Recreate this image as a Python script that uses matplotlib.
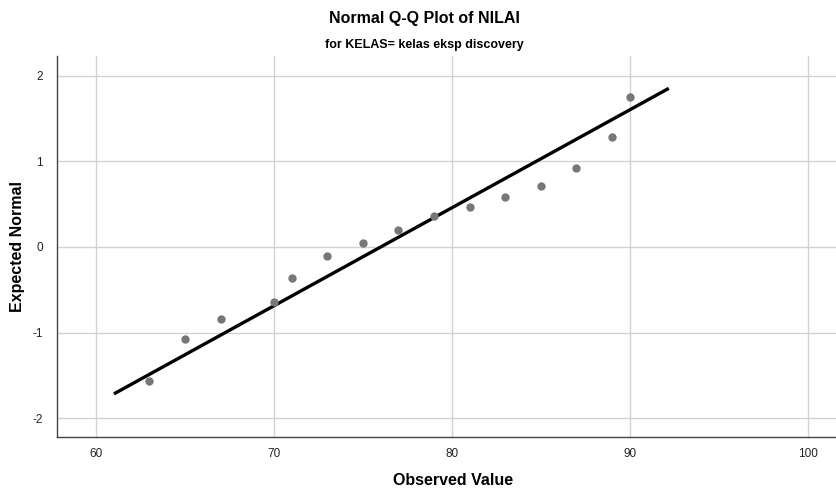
import matplotlib
matplotlib.use("Agg")
import matplotlib.pyplot as plt
import numpy as np

observed = [63, 65, 67, 70, 71, 73, 75, 77, 79, 81, 83, 85, 87, 89, 90]
expected = [-1.56, -1.08, -0.84, -0.64, -0.36, -0.10, 0.05, 0.20, 0.36,
            0.47, 0.58, 0.71, 0.92, 1.28, 1.75]
line_x = [61.0, 92.2]
line_mean = 76.0
line_sd = 8.74
x_ticks = [60, 70, 80, 90, 100]
y_ticks = [-2, -1, 0, 1, 2]

plt.rcParams['font.family'] = ['Liberation Sans', 'DejaVu Sans']
plt.rcParams['axes.unicode_minus'] = False

fig = plt.figure(figsize=(8.37, 4.88), dpi=100)
ax = fig.add_axes([0.0681, 0.1045, 0.9307, 0.7805])

ax.set_xlim(57.8, 101.6)
ax.set_ylim(-2.22, 2.23)
ax.set_xticks(x_ticks)
ax.set_yticks(y_ticks)
ax.grid(True, color='#d2d2d2', linewidth=1.0)
ax.set_axisbelow(True)

lx = np.array(line_x)
ly = (lx - line_mean) / line_sd
ax.plot(lx, ly, color='black', linewidth=2.4, solid_capstyle='butt', zorder=3)
ax.plot(observed, expected, 'o', color='#777777', markersize=6, markeredgewidth=0, zorder=4)

for s in ['top', 'right']:
    ax.spines[s].set_visible(False)
for s in ['left', 'bottom']:
    ax.spines[s].set_color('#444444')
    ax.spines[s].set_linewidth(1.0)
ax.tick_params(axis='both', length=0, labelsize=8.5, colors='#222222')
ax.tick_params(axis='x', pad=8)
ax.tick_params(axis='y', pad=10)

fig.text(0.5413, 0.016, 'Observed Value', ha='center', va='center',
         fontsize=11.5, fontweight='bold')
fig.text(0.0215, 0.494, 'Expected Normal', ha='center', va='center',
         rotation=90, fontsize=11.5, fontweight='bold')

fig.text(0.507, 0.962, 'Normal Q-Q Plot of NILAI', ha='center', va='center',
         fontsize=11.5, fontweight='bold')
fig.text(0.507, 0.907, 'for KELAS= kelas eksp discovery', ha='center', va='center',
         fontsize=9, fontweight='bold')

fig.savefig('out.png', dpi=100)
